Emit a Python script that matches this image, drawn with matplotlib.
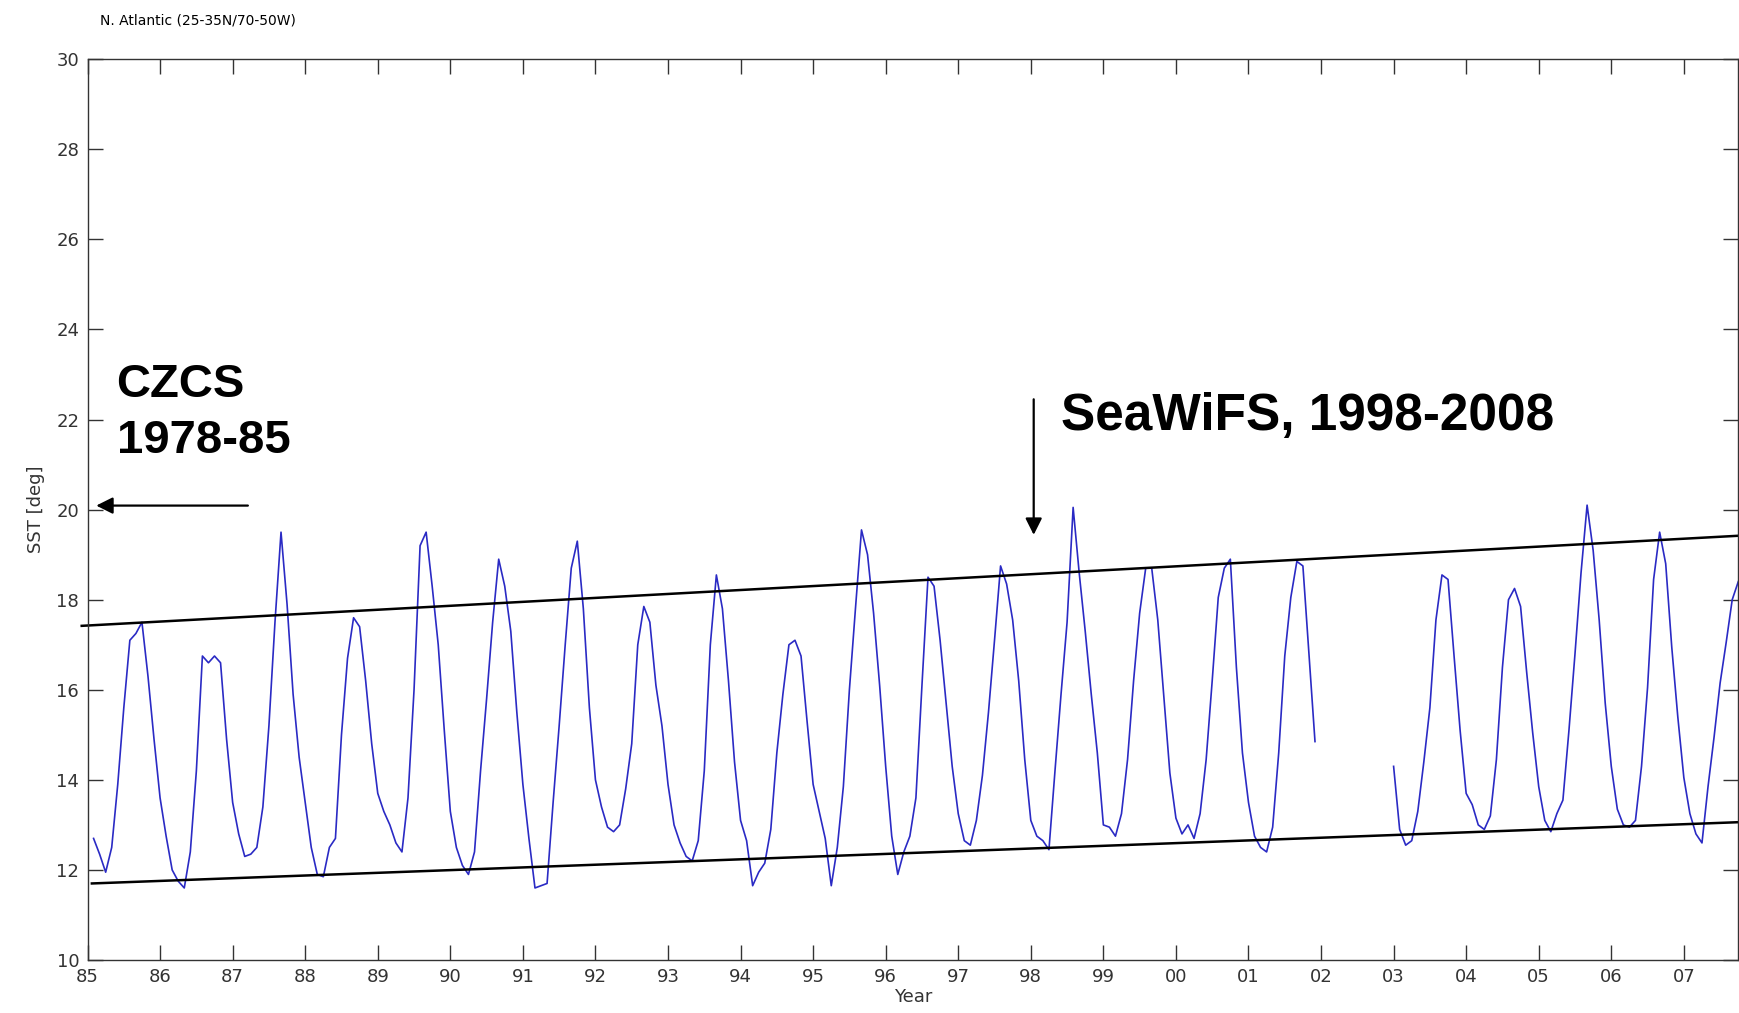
import numpy as np
import matplotlib
matplotlib.use("Agg")
import matplotlib.pyplot as plt

# Monthly SST, N. Atlantic box
# first block: Jan 1985 .. Nov 2001
sst_part1 = [12.7, 12.35, 11.95, 12.5, 13.9, 15.6, 17.1, 17.25, 17.5, 16.3, 14.9, 13.6,
             12.75, 12.0, 11.75, 11.6, 12.4, 14.2, 16.75, 16.6, 16.75, 16.6, 14.9, 13.5,
             12.8, 12.3, 12.35, 12.5, 13.4, 15.2, 17.5, 19.5, 17.9, 15.9, 14.5, 13.5,
             12.5, 11.9, 11.85, 12.5, 12.7, 15.0, 16.7, 17.6, 17.4, 16.2, 14.8, 13.7,
             13.3, 13.0, 12.6, 12.4, 13.6, 16.0, 19.2, 19.5, 18.3, 17.0, 15.1, 13.3,
             12.5, 12.1, 11.9, 12.4, 14.2, 15.8, 17.5, 18.9, 18.3, 17.3, 15.5, 13.9,
             12.7, 11.6, 11.65, 11.7, 13.5, 15.2, 17.0, 18.7, 19.3, 17.8, 15.6, 14.0,
             13.4, 12.95, 12.85, 13.0, 13.8, 14.8, 17.0, 17.85, 17.5, 16.1, 15.2, 13.9,
             13.0, 12.6, 12.3, 12.2, 12.65, 14.2, 17.0, 18.55, 17.8, 16.2, 14.4, 13.1,
             12.65, 11.65, 11.95, 12.15, 12.9, 14.6, 15.9, 17.0, 17.1, 16.75, 15.3, 13.9,
             13.3, 12.7, 11.65, 12.5, 13.85, 16.0, 17.8, 19.55, 19.0, 17.7, 16.1, 14.3,
             12.75, 11.9, 12.4, 12.75, 13.6, 16.1, 18.5, 18.3, 17.1, 15.7, 14.3, 13.25,
             12.65, 12.55, 13.1, 14.1, 15.5, 17.1, 18.75, 18.35, 17.55, 16.2, 14.45, 13.1,
             12.75, 12.65, 12.45, 14.2, 15.9, 17.5, 20.05, 18.6, 17.3, 15.9, 14.6, 13.0,
             12.95, 12.75, 13.25, 14.45, 16.2, 17.7, 18.7, 18.7, 17.55, 15.85, 14.15, 13.15,
             12.8, 13.0, 12.7, 13.25, 14.45, 16.2, 18.05, 18.7, 18.9, 16.5, 14.6, 13.5,
             12.75, 12.5, 12.4, 12.95, 14.6, 16.75, 18.05, 18.85, 18.75, 16.8, 14.85]
# second block: Dec 2002 .. Sep 2007
sst_part2 = [14.3, 12.9, 12.55, 12.65, 13.3, 14.4, 15.6, 17.55, 18.55, 18.45, 16.75, 15.1,
             13.7, 13.45, 13.0, 12.9, 13.2, 14.45, 16.5, 18.0, 18.25, 17.85, 16.4, 15.05,
             13.85, 13.1, 12.85, 13.25, 13.55, 15.1, 16.8, 18.6, 20.1, 19.1, 17.55, 15.7,
             14.3, 13.35, 13.0, 12.95, 13.1, 14.3, 16.05, 18.45, 19.5, 18.8, 16.95, 15.4,
             14.05, 13.25, 12.8, 12.6, 13.85, 14.95, 16.15, 17.05, 18.0, 18.4]
part1_first_month = 1     # month index counted from start of 1985
part2_first_month = 216

# envelope lines drawn by hand on the figure (year, SST)
upper_env = ([1984.92, 2007.75], [17.42, 19.42])
lower_env = ([1985.06, 2007.75], [11.70, 13.06])

year_ticks = list(range(1985, 2008))
year_labels = ["%02d" % (y % 100) for y in year_ticks]
sst_ticks = list(range(10, 31, 2))

x1 = 1985 + np.arange(part1_first_month, part1_first_month + len(sst_part1)) / 12.0
x2 = 1985 + np.arange(part2_first_month, part2_first_month + len(sst_part2)) / 12.0

fig = plt.figure(figsize=(17.4, 10.13), dpi=100)
ax = fig.add_axes([0.0503, 0.0523, 0.9487, 0.8892])

line_col = "#2a2ac4"
ax.plot(x1, sst_part1, color=line_col, lw=1.2)
ax.plot(x2, sst_part2, color=line_col, lw=1.2)

ax.plot(*upper_env, color="black", lw=1.8, clip_on=False)
ax.plot(*lower_env, color="black", lw=1.8)

ax.set_xlim(1985, 2007.75)
ax.set_ylim(10, 30)
ax.set_xticks(year_ticks)
ax.set_xticklabels(year_labels)
ax.set_yticks(sst_ticks)

# matlab look: inward ticks on all four sides
ax.tick_params(direction="in", length=11, width=1, top=True, right=True,
               labelsize=13, colors="#333333", pad=6)
for sp in ax.spines.values():
    sp.set_color("#333333")
    sp.set_linewidth(1.0)

ax.set_xlabel("Year", fontsize=13, labelpad=1, color="#333333")
ax.set_ylabel("SST [deg]", fontsize=13, labelpad=8, color="#333333")
fig.text(0.0575, 0.980, "N. Atlantic (25-35N/70-50W)", fontsize=10, ha="left", va="center")

# annotations
ax.text(1985.40, 22.51, "CZCS", ha="left", va="baseline",
        fontsize=34, fontweight="bold", family="Liberation Sans")
ax.text(1985.40, 21.25, "1978-85", ha="left", va="baseline",
        fontsize=34, fontweight="bold", family="Liberation Sans")
ax.annotate("", xy=(1985.12, 20.09), xytext=(1987.21, 20.09),
            arrowprops=dict(arrowstyle="-|>", color="black", lw=1.6,
                            mutation_scale=25, shrinkA=0, shrinkB=0))

ax.text(1998.42, 21.76, "SeaWiFS, 1998-2008", ha="left", va="baseline",
        fontsize=37, fontweight="bold", family="Liberation Sans")
ax.annotate("", xy=(1998.04, 19.44), xytext=(1998.04, 22.45),
            arrowprops=dict(arrowstyle="-|>", color="black", lw=1.6,
                            mutation_scale=25, shrinkA=0, shrinkB=0))

fig.savefig("out.png", dpi=100)
